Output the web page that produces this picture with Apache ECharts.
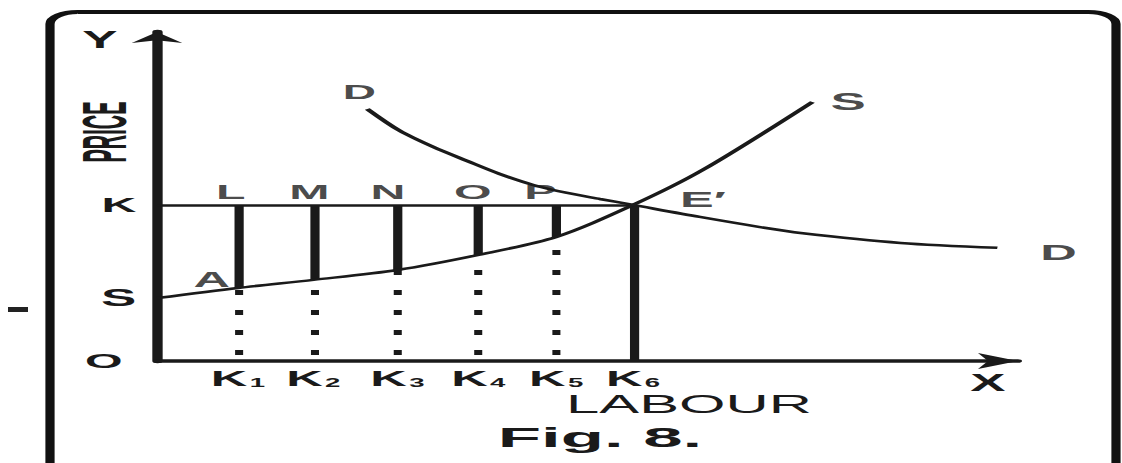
<!DOCTYPE html>
<html>
<head>
<meta charset="utf-8">
<script src="https://cdn.jsdelivr.net/npm/echarts@6/dist/echarts.min.js"></script>
<style>
html,body{margin:0;padding:0;background:#fff;overflow:hidden;width:1122px;height:463px}
#wrap{width:1122px;height:463px;overflow:hidden;position:relative;background:#fff}
#chart{width:488px;height:463px;position:absolute;left:0;top:0;transform:scaleX(2.29918);transform-origin:0 0}
</style>
</head>
<body>
<div id="wrap"><div id="chart"></div></div>
<script>
// ---- data ----
const kPositions   = [1.02, 1.97, 3.03, 4.05, 5.03, 6.0];          // labour quantities K1..K6
const kTickLabels  = ['K₁', 'K₂', 'K₃', 'K₄', 'K₅', 'K₆'];
const priceTickValues = [0, 2.42, 6.0];
const priceTickLabels = ['O', 'S', 'K'];
const wageK = 6.0;                                             // price level K
const supplyX = [0, 1.02, 1.97, 3.03, 4.05, 5.03, 6.0, 6.88, 8.26];
const supplyY = [2.42, 2.81, 3.12, 3.50, 4.08, 4.77, 6.0, 7.35, 9.96];
const demandX = [2.65, 3.06, 3.48, 3.91, 4.32, 4.74, 5.17, 5.58, 6.0, 6.84, 7.60, 8.11, 9.37, 10.59];
const demandY = [9.69, 8.85, 8.23, 7.69, 7.19, 6.77, 6.46, 6.23, 6.0, 5.54, 5.15, 4.92, 4.54, 4.35];
const supplyAtK = [2.81, 3.12, 3.50, 4.08, 4.77];              // supply price at K1..K5
const topLetters  = ['L', 'M', 'N', 'O', 'P'];
const topLettersX = [0.93, 1.92, 2.91, 3.98, 4.83];
const topLettersY = 6.5;
const curveLabels  = ['D', 'D', 'S', 'E′', 'A'];
const curveLabelsX = [2.55, 11.36, 8.71, 6.88, 0.69];
const curveLabelsY = [10.35, 4.19, 9.96, 6.23, 3.12];
const xMax = 10.85, yMax = 12.65;

// ---- layout helpers ----
const W = 488, STRETCH = 1122 / W;
const px = v => v / STRETCH;
const INK = '#1a1a1a';
const FONT = 'Liberation Sans';

const chart = echarts.init(document.getElementById('chart'), null, {renderer: 'svg', width: W, height: 463});

const solidLines = [{coords: [[0, wageK], [kPositions[5], wageK]], lineStyle: {width: 2.5}}];
supplyAtK.forEach((s, i) => solidLines.push({coords: [[kPositions[i], wageK], [kPositions[i], s]], lineStyle: {width: 4}}));
solidLines.push({coords: [[kPositions[5], wageK], [kPositions[5], 0]], lineStyle: {width: 4}});
const dashedLines = supplyAtK.map((s, i) => ({coords: [[kPositions[i], 0], [kPositions[i], s]]}));

const labelPts = topLetters.map((t, i) => ({value: [topLettersX[i], topLettersY], name: t}))
  .concat(curveLabels.map((t, i) => ({value: [curveLabelsX[i], curveLabelsY[i]], name: t,
    label: {fontSize: t === 'S' ? 23 : (i === 0 ? 20 : 22)}})));

const subMap = {'₁':'1','₂':'2','₃':'3','₄':'4','₅':'5','₆':'6'};

const option = {
  backgroundColor: '#fff',
  animation: false,
  grid: {left: px(157), right: W - px(1018), top: 32, bottom: 102, containLabel: false, outerBoundsMode: 'none'},
  xAxis: {
    type: 'value', min: 0, max: xMax,
    axisLine: {onZero: false, symbol: ['none', 'arrow'], symbolSize: [12, 17.4], lineStyle: {color: INK, width: 3.5}},
    axisTick: {show: false}, splitLine: {show: false},
    axisLabel: {
      customValues: kPositions, margin: 5,
      formatter: function (v) {
        let i = kPositions.indexOf(v);
        if (i < 0) { let best = 0; kPositions.forEach((k, j) => { if (Math.abs(k - v) < Math.abs(kPositions[best] - v)) best = j; }); i = best; }
        const t = kTickLabels[i];
        return '{k|' + t.charAt(0) + '}{s|' + (subMap[t.charAt(1)] || t.charAt(1)) + '}';
      },
      rich: {
        k: {fontFamily: FONT, fontWeight: 'bold', fontSize: 22, color: INK, lineHeight: 24},
        s: {fontFamily: FONT, fontWeight: 'bold', fontSize: 12, color: INK, lineHeight: 24, padding: [10, 0, 0, 1]}
      }
    }
  },
  yAxis: {
    type: 'value', min: 0, max: yMax,
    axisLine: {onZero: false, symbol: ['none', 'arrow'], symbolSize: [16.5, 11], lineStyle: {color: INK, width: 4.5}},
    axisTick: {show: false}, splitLine: {show: false},
    axisLabel: {
      customValues: priceTickValues, margin: 9,
      formatter: function (v) {
        let i = priceTickValues.indexOf(v);
        if (i < 0) i = 0;
        const t = priceTickLabels[i];
        return t === 'O' ? '{o|' + t + '}' : (t === 'S' ? '{s|' + t + '}' : t);
      },
      fontFamily: FONT, fontWeight: 'bold', fontSize: 21, color: INK,
      rich: {
        o: {fontFamily: FONT, fontWeight: 'bold', fontSize: 21, color: INK, padding: [0, 6, 0, 0]},
        s: {fontFamily: FONT, fontWeight: 'bold', fontSize: 23, color: INK}
      }
    }
  },
  series: [
    {type: 'lines', coordinateSystem: 'cartesian2d', silent: true, z: 2,
     lineStyle: {color: INK, width: 4, opacity: 1, cap: 'butt'}, data: solidLines},
    {type: 'lines', coordinateSystem: 'cartesian2d', silent: true, z: 2,
     lineStyle: {color: INK, width: 3.5, opacity: 1, type: [5, 15], dashOffset: 14, cap: 'butt'}, data: dashedLines},
    {type: 'line', name: 'S', smooth: 0.3, showSymbol: false, symbol: 'none', z: 3, silent: true,
     lineStyle: {color: INK, width: 2.5}, data: supplyX.map((x, i) => [x, supplyY[i]])},
    {type: 'line', name: 'D', smooth: 0.3, showSymbol: false, symbol: 'none', z: 3, silent: true,
     lineStyle: {color: INK, width: 2.5}, data: demandX.map((x, i) => [x, demandY[i]])},
    {type: 'scatter', clip: false, symbolSize: 1, silent: true, z: 4,
     itemStyle: {color: 'transparent'},
     label: {show: true, position: 'inside', formatter: p => p.name,
             fontFamily: FONT, fontWeight: 'bold', fontSize: 21, color: INK},
     data: labelPts}
  ],
  graphic: [
    {type: 'rect', silent: true, z: 0,
     shape: {x: px(50), y: 12, width: px(1116) - px(50), height: 520, r: 12},
     style: {fill: 'none', stroke: '#111', lineWidth: 4}},
    {type: 'rect', silent: true, shape: {x: px(8), y: 307, width: px(20), height: 5}, style: {fill: '#222'}},
    {type: 'text', silent: true, x: px(100), y: 40,
     style: {text: 'Y', fontFamily: FONT, fontWeight: 'bold', fontSize: 23, fill: INK, align: 'center', verticalAlign: 'middle'}},
    {type: 'text', silent: true, x: px(988), y: 383,
     style: {text: 'X', fontFamily: FONT, fontWeight: 'bold', fontSize: 23, fill: INK, align: 'center', verticalAlign: 'middle'}},
    {type: 'text', silent: true, x: px(104), y: 132, rotation: Math.PI / 2, scaleX: 0.95, scaleY: 1.3,
     style: {text: 'PRICE', fontFamily: FONT, fontWeight: 'bold', fontSize: 21, fill: INK, align: 'center', verticalAlign: 'middle'}},
    {type: 'text', silent: true, x: px(689), y: 404,
     style: {text: 'LABOUR', fontFamily: FONT, fontSize: 26, fill: INK, align: 'center', verticalAlign: 'middle'}},
    {type: 'text', silent: true, x: px(600), y: 437, scaleX: 1.1,
     style: {text: 'Fig. 8.', fontFamily: FONT, fontWeight: 'bold', fontSize: 28, fill: INK, align: 'center', verticalAlign: 'middle'}}
  ]
};
chart.setOption(option);
</script>
</body>
</html>
